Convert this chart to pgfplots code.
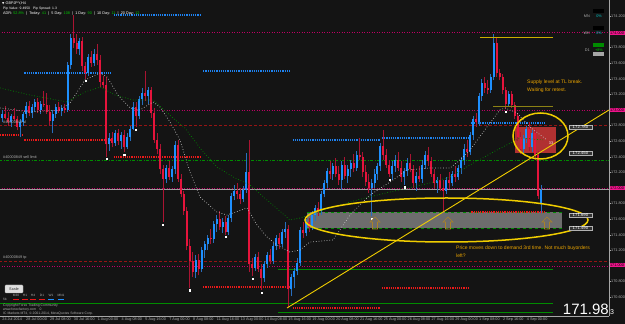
\documentclass[border=0pt]{standalone}
\usepackage{pgfplots}
\pgfplotsset{compat=1.18}
\usepackage{pgfplotstable}
\usepackage{fontspec}
\setmainfont{Liberation Sans}
\newfontfamily\dejavu{DejaVu Sans}
\definecolor{bg}{RGB}{20,20,20}
\definecolor{upc}{RGB}{30,144,255}
\definecolor{dnc}{RGB}{230,20,60}
\definecolor{upw}{RGB}{40,110,190}
\definecolor{dnw}{RGB}{170,20,50}
\definecolor{magl}{RGB}{190,0,100}
\definecolor{drl}{RGB}{150,20,20}
\definecolor{gml}{RGB}{0,140,0}
\definecolor{yel}{RGB}{240,205,0}
\definecolor{olv}{RGB}{140,130,20}
\definecolor{ann}{RGB}{235,165,0}
\definecolor{pinkl}{RGB}{240,20,140}
\definecolor{axg}{RGB}{175,175,175}
\definecolor{boxred}{RGB}{205,55,55}
\definecolor{boxgray}{RGB}{125,125,125}
\definecolor{sqblue}{RGB}{30,130,240}
\definecolor{sqred}{RGB}{235,25,25}
\definecolor{arr}{RGB}{170,130,40}
\definecolor{grn}{RGB}{0,200,0}
\definecolor{cya}{RGB}{0,200,200}
\definecolor{mag}{RGB}{195,195,195}

% bullish candles (close >= open)
\pgfplotstableread{
x o h l c
0 172.90 173.00 172.84 172.95
3 172.85 172.95 172.78 172.92
6 172.78 172.88 172.65 172.84
7 172.84 172.98 172.80 172.95
8 172.95 173.10 172.90 173.05
10 172.96 173.08 172.90 173.04
11 173.04 173.14 172.98 173.10
13 173.00 173.12 172.95 173.08
17 172.86 173.00 172.70 172.95
18 172.95 173.08 172.90 173.04
20 172.99 173.06 172.92 173.02
22 173.00 173.62 172.98 173.58
23 173.58 173.98 173.52 173.92
26 173.78 173.92 173.70 173.88
29 173.48 173.72 173.44 173.68
31 173.60 173.78 173.56 173.72
36 172.56 172.70 172.48 172.64
38 172.58 172.74 172.54 172.70
40 172.60 172.72 172.50 172.68
42 172.52 172.70 172.50 172.66
43 172.66 172.80 172.60 172.76
44 172.76 173.10 172.74 173.04
46 172.92 173.18 172.88 173.14
47 173.14 173.28 173.06 173.22
49 173.18 173.30 173.08 173.26
55 172.12 172.30 172.06 172.26
57 172.14 172.28 172.08 172.24
58 172.24 172.60 172.18 172.55
65 170.92 171.14 170.84 171.08
67 170.96 171.24 170.92 171.20
68 171.20 171.32 171.10 171.28
69 171.28 171.40 171.20 171.36
71 171.34 171.58 171.30 171.54
72 171.54 171.66 171.44 171.60
74 171.50 171.62 171.42 171.56
76 171.44 171.66 171.40 171.62
77 171.62 171.94 171.56 171.90
78 171.90 172.04 171.84 171.96
81 171.86 172.02 171.82 171.98
82 171.98 172.45 171.94 172.20
85 170.98 171.16 170.94 171.12
88 170.84 171.06 170.80 171.02
89 171.02 171.18 170.98 171.14
91 171.06 171.30 171.02 171.26
92 171.26 171.40 171.20 171.36
94 171.28 171.48 171.24 171.44
95 171.44 171.56 171.36 171.48
97 170.70 170.90 170.62 170.86
98 170.86 170.98 170.72 170.94
99 170.94 171.10 170.88 171.04
100 171.04 171.50 171.00 171.46
102 171.42 171.60 171.38 171.56
104 171.50 171.70 171.46 171.66
105 171.66 171.78 171.58 171.74
107 171.70 171.96 171.66 171.92
108 171.92 172.10 171.88 172.06
109 172.06 172.26 172.00 172.22
111 172.18 172.32 172.10 172.28
114 172.10 172.34 171.98 172.30
116 172.16 172.30 172.06 172.24
117 172.24 172.36 172.14 172.32
119 172.26 172.48 172.22 172.42
124 172.00 172.12 171.64 172.06
125 172.06 172.24 172.00 172.18
126 172.18 172.32 172.10 172.28
127 172.28 172.58 172.22 172.54
131 172.18 172.34 172.10 172.28
132 172.28 172.42 172.20 172.36
135 172.14 172.26 172.04 172.22
136 172.22 172.38 172.16 172.32
139 172.06 172.20 171.96 172.16
141 172.12 172.36 172.06 172.30
142 172.30 172.48 172.24 172.42
146 172.06 172.14 171.94 172.10
149 171.96 172.14 171.92 172.10
151 172.06 172.22 172.02 172.18
153 172.14 172.30 172.10 172.26
154 172.26 172.40 172.18 172.36
155 172.36 172.56 172.30 172.50
157 172.46 172.72 172.42 172.68
158 172.68 172.92 172.62 172.88
160 172.84 173.22 172.80 173.18
161 173.18 173.40 173.12 173.34
164 173.26 173.46 173.22 173.42
165 173.42 173.97 173.38 173.86
170 173.08 173.24 173.04 173.20
175 172.50 172.68 172.44 172.64
176 172.64 172.80 172.58 172.76
178 172.52 172.74 172.46 172.70
181 171.80 172.04 171.68 171.98
}\upbars

% bearish candles (close < open)
\pgfplotstableread{
x o h l c
1 172.95 173.05 172.88 172.90
2 172.90 172.98 172.80 172.85
4 172.92 173.02 172.86 172.88
5 172.88 172.92 172.74 172.78
9 173.05 173.12 172.92 172.96
12 173.10 173.15 172.96 173.00
14 173.08 173.24 173.04 173.06
15 173.06 173.22 172.95 172.98
16 172.98 173.06 172.80 172.86
19 173.04 173.10 172.96 172.99
21 173.02 173.08 172.96 173.00
24 173.92 174.22 173.80 173.86
25 173.86 173.97 173.72 173.78
27 173.88 173.94 173.50 173.56
28 173.56 173.62 173.40 173.48
30 173.68 173.76 173.55 173.60
32 173.72 173.84 173.58 173.64
33 173.64 173.70 173.30 173.36
34 173.36 173.44 173.28 173.32
35 173.32 173.42 172.40 172.56
37 172.64 172.72 172.52 172.58
39 172.70 172.76 172.55 172.60
41 172.68 172.74 172.46 172.52
45 173.04 173.10 172.78 172.92
48 173.22 173.50 173.12 173.18
50 173.26 173.30 172.90 172.96
51 172.96 173.02 172.58 172.62
52 172.62 172.70 172.44 172.50
53 172.50 172.56 172.18 172.24
54 172.24 172.30 171.56 172.12
56 172.26 172.34 172.10 172.14
59 172.55 172.62 172.08 172.12
60 172.12 172.18 171.88 171.92
61 171.92 171.96 171.66 171.70
62 171.70 171.76 171.20 171.26
63 171.26 171.34 170.72 171.06
64 171.06 171.18 170.86 170.92
66 171.08 171.16 170.88 170.96
70 171.36 171.48 171.28 171.34
73 171.60 171.70 171.46 171.50
75 171.56 171.64 171.40 171.44
79 171.96 172.06 171.86 171.92
80 171.92 172.00 171.80 171.86
83 172.20 172.62 170.92 171.02
84 171.02 171.10 170.87 170.98
86 171.12 171.18 170.92 170.96
87 170.96 171.02 170.69 170.84
90 171.14 171.22 171.02 171.06
93 171.36 171.42 171.22 171.28
96 171.48 171.52 170.46 170.70
101 171.46 171.56 171.36 171.42
103 171.56 171.62 171.44 171.50
106 171.74 171.82 171.64 171.70
110 172.22 172.34 172.12 172.18
112 172.28 172.38 172.14 172.18
113 172.18 172.28 172.04 172.10
115 172.30 172.40 172.12 172.16
118 172.32 172.44 172.20 172.26
120 172.42 172.64 172.36 172.40
121 172.40 172.46 172.14 172.20
122 172.20 172.30 172.02 172.08
123 172.08 172.18 171.94 172.00
128 172.54 172.74 172.36 172.42
129 172.42 172.50 172.26 172.30
130 172.30 172.36 172.14 172.18
133 172.36 172.46 172.22 172.26
134 172.26 172.34 172.08 172.14
137 172.32 172.44 172.20 172.24
138 172.24 172.30 172.00 172.06
140 172.16 172.28 172.08 172.12
143 172.42 172.52 172.28 172.34
144 172.34 172.40 172.14 172.18
145 172.18 172.24 172.00 172.06
147 172.10 172.18 171.96 172.00
148 172.00 172.10 171.69 171.96
150 172.10 172.20 172.00 172.06
152 172.18 172.28 172.08 172.14
156 172.50 172.62 172.40 172.46
159 172.88 172.96 172.78 172.84
162 173.34 173.42 173.22 173.28
163 173.28 173.38 173.20 173.26
166 173.86 173.94 173.42 173.48
167 173.48 173.52 173.38 173.42
168 173.42 173.46 173.20 173.26
169 173.26 173.30 173.01 173.08
171 173.20 173.24 173.02 173.06
172 173.06 173.10 172.88 172.92
173 172.92 172.96 172.60 172.66
174 172.66 172.72 172.44 172.50
177 172.76 172.84 172.48 172.52
179 172.70 172.76 172.36 172.42
180 172.42 172.48 171.86 171.90
}\dnbars

\begin{document}
\begin{tikzpicture}
\useasboundingbox (0,0) rectangle (625pt,324pt);
\fill[bg] (0,0) rectangle (625pt,324pt);
\begin{axis}[
  at={(0pt,8pt)}, anchor=south west,
  scale only axis, width=609pt, height=316pt,
  xmin=-0.671, xmax=203.69, ymin=170.359, ymax=174.410,
  axis x line*=bottom, axis y line*=right,
  axis line style={draw=gray!70, line width=0.4pt},
  tick align=outside, major tick length=1.5pt,
  tick style={draw=gray!70, line width=0.3pt},
  /pgf/number format/assume math mode=true,
  xtick={0,8,...,176},
  xticklabels={24 Jul 2014, 28 Jul 00:00, 29 Jul 08:00, 30 Jul 16:00, 1 Aug 00:00, 4 Aug 08:00, 5 Aug 16:00, 7 Aug 00:00, 8 Aug 08:00, 11 Aug 16:00, 13 Aug 00:00, 14 Aug 08:00, 15 Aug 16:00, 19 Aug 00:00, 20 Aug 08:00, 21 Aug 16:00, 25 Aug 00:00, 26 Aug 08:00, 27 Aug 16:00, 29 Aug 00:00, 1 Sep 08:00, 2 Sep 16:00, 4 Sep 00:00},
  xticklabel style={anchor=north west, inner sep=0.5pt, xshift=-0.3pt, font=\fontsize{3.8}{4}\selectfont, text=axg},
  ytick={170.6,170.8,171.2,171.4,171.6,171.8,172.2,172.4,172.6,172.8,173.2,173.4,173.6,173.8,174.2},
  yticklabel style={/pgf/number format/fixed, /pgf/number format/fixed zerofill, /pgf/number format/precision=3, font=\fontsize{3.8}{4}\selectfont, text=axg, inner sep=0.5pt},
  scaled y ticks=false,
]
% boxes
\addplot[draw=none, fill=boxgray, fill opacity=0.85, forget plot] coordinates {(102.35,171.69) (187.9,171.69) (187.9,171.49) (102.35,171.49)} -- cycle;
\addplot[gml, dashed, line width=0.5pt] coordinates {(102.35,171.69) (187.9,171.69)};
\addplot[gml, dashed, line width=0.5pt] coordinates {(102.35,171.49) (187.9,171.49)};
\addplot[draw=none, fill=boxred, fill opacity=0.85, forget plot] coordinates {(172.15,172.78) (185.9,172.78) (185.9,172.45) (172.15,172.45)} -- cycle;
% full-width levels
\addplot[magl, dotted, line width=0.5pt] coordinates {(-1,174.0) (204,174.0)};
\addplot[magl, dotted, line width=0.5pt] coordinates {(-1,173.0) (204,173.0)};
\addplot[magl, dotted, line width=0.5pt] coordinates {(-1,172.0) (204,172.0)};
\addplot[magl, dotted, line width=0.5pt] coordinates {(-1,171.0) (204,171.0)};
\addplot[drl, dash pattern=on 3pt off 2pt, line width=0.5pt] coordinates {(-1,172.808) (204,172.808)};
\addplot[drl, dash pattern=on 3pt off 2pt, line width=0.5pt] coordinates {(-1,171.064) (204,171.064)};
\addplot[gml, dash pattern=on 3pt off 1.5pt on 1pt off 1.5pt, line width=0.5pt] coordinates {(-1,172.359) (204,172.359)};
\addplot[gray!75, line width=0.5pt] coordinates {(-1,171.983) (204,171.983)};
\addplot[gml, line width=0.6pt] coordinates {(-1,170.526) (184.9,170.526)};
\addplot[gml, line width=0.6pt] coordinates {(92.6,170.962) (184.9,170.962)};
\addplot[gml, line width=0.6pt] coordinates {(92.6,170.41) (184.9,170.41)};
% weekly high (blue) and low (red) square-dotted segments
\pgfplotsset{sqdot/.style={line width=1.2pt, dash pattern=on 1.2pt off 1.0pt}}
\addplot[sqblue, sqdot] coordinates {(7.5,173.474) (37,173.474)};
\addplot[sqblue, sqdot] coordinates {(37.5,174.218) (67,174.218)};
\addplot[sqblue, sqdot] coordinates {(67.5,173.5) (97,173.5)};
\addplot[sqblue, sqdot] coordinates {(97.5,172.615) (127,172.615)};
\addplot[sqblue, sqdot] coordinates {(127.5,172.641) (157,172.641)};
\addplot[sqblue, sqdot] coordinates {(157.5,172.833) (182.5,172.833)};
\addplot[sqred, sqdot] coordinates {(-0.6,172.679) (7,172.679)};
\addplot[sqred, sqdot] coordinates {(7.5,172.615) (37,172.615)};
\addplot[sqred, sqdot] coordinates {(37.5,172.397) (67,172.397)};
\addplot[sqred, sqdot] coordinates {(67.5,170.731) (97,170.731)};
\addplot[sqred, sqdot] coordinates {(97.5,170.462) (127,170.462)};
\addplot[sqred, sqdot] coordinates {(127.5,170.718) (157,170.718)};
\addplot[sqred, sqdot] coordinates {(157.5,171.692) (182,171.692)};
% candles: wicks
\addplot[draw=none, mark=none, forget plot, error bars/.cd, y dir=plus, y explicit, error mark=none,
  error bar style={line width=0.6pt, draw=upw, solid}]
  table[x=x, y=l, y error plus expr={\thisrow{h}-\thisrow{l}}] {\upbars};
\addplot[draw=none, mark=none, forget plot, error bars/.cd, y dir=plus, y explicit, error mark=none,
  error bar style={line width=0.6pt, draw=dnw, solid}]
  table[x=x, y=l, y error plus expr={\thisrow{h}-\thisrow{l}}] {\dnbars};
% candles: bodies
\addplot[draw=none, mark=none, forget plot, error bars/.cd, y dir=plus, y explicit, error mark=none,
  error bar style={line width=2pt, draw=upc, solid}]
  table[x=x, y=o, y error plus expr={\thisrow{c}-\thisrow{o}}] {\upbars};
\addplot[draw=none, mark=none, forget plot, error bars/.cd, y dir=plus, y explicit, error mark=none,
  error bar style={line width=2pt, draw=dnc, solid}]
  table[x=x, y=c, y error plus expr={\thisrow{o}-\thisrow{c}}] {\dnbars};
% moving averages
\addplot[mag, dotted, line width=0.7pt] coordinates {(-0.67,173.026) (9.40,172.974) (19.46,173.000) (22.82,173.090) (27.85,173.385) (32.89,173.474) (35.23,173.423) (38.93,173.192) (42.95,173.026) (46.31,173.000) (50.67,173.103) (53.02,173.038) (56.38,172.846) (59.73,172.615) (63.09,172.205) (66.44,171.885) (72.15,171.692) (75.50,171.654) (77.52,171.679) (82.21,171.744) (85.57,171.526) (88.93,171.372) (92.28,171.269) (96.64,171.179) (100.00,171.205) (103.36,171.308) (111.07,171.333) (116.78,171.654) (123.49,171.910) (130.20,172.077) (135.91,172.231) (143.62,172.256) (150.34,172.256) (153.69,172.359) (157.05,172.487) (162.75,172.782) (167.11,173.000) (168.79,173.026) (172.82,172.962) (177.18,172.782) (182.89,172.615)};
\addplot[gml, dotted, line width=0.7pt] coordinates {(-0.67,173.282) (9.40,173.192) (21.81,173.103) (27.85,173.231) (32.89,173.295) (37.92,173.192) (43.96,173.128) (50.67,173.128) (57.38,172.897) (61.41,172.769) (66.44,172.513) (72.15,172.269) (78.19,172.128) (83.22,172.038) (88.93,171.846) (96.64,171.590) (100.00,171.615) (110.07,171.744) (119.13,171.846) (130.20,171.949) (137.92,172.013) (143.62,172.064) (150.34,172.141) (157.05,172.295) (166.11,172.487) (173.83,172.641) (182.21,172.615)};
% swing-low dots
\addplot[only marks, mark=square*, mark size=0.55pt, white] coordinates {(28,173.37) (35,172.37) (41,172.43) (45,172.75) (54,171.53) (63,170.69) (75,171.37) (84,170.84) (87,170.66) (124,171.61) (130,172.11) (135,172.01) (169,172.98)};
% trendline and manual levels
\addplot[yel, line width=0.9pt] coordinates {(95.64,170.462) (203.69,173.0)};
\addplot[yel!85!black, line width=0.8pt] coordinates {(160.4,173.936) (184.9,173.936)};
\addplot[olv, line width=0.8pt] coordinates {(164.8,173.051) (184.9,173.051)};
\end{axis}

\begin{scope}[x=1pt, y=-1pt, shift={(0pt,324pt)}]
\tikzset{tiny/.style={font=\fontsize{3.8}{4}\selectfont, inner sep=0pt}}
% ellipses
\draw[yel, line width=1.5pt] (446.5,220) ellipse [x radius=141.5pt, y radius=22pt];
\draw[yel, line width=1.5pt] (540.5,136) ellipse [x radius=27.5pt, y radius=23pt];
% arrows
\foreach \ax in {375,448,547}{
  \draw[arr, line width=0.6pt] (\ax,217) -- ++(5,5) -- ++(-2.5,0) -- ++(0,7) -- ++(-5,0) -- ++(0,-7) -- ++(-2.5,0) -- cycle;
}
\node[tiny, text=white] at (551,143) {33};
% boxed price labels
\foreach \yy/\tt in {127/172.780, 153/172.450, 215/171.690, 228/171.490}{
  \node[font=\fontsize{4.3}{5}\selectfont, text=white, fill=black!80, draw=gray!60, line width=0.5pt, inner sep=0.6pt, minimum width=23pt] at (580.5,\yy) {\tt};
}
% annotation texts
\node[anchor=west, text=ann, font=\fontsize{5}{6}\selectfont, inner sep=0] at (527,82) {Supply level at TL break.};
\node[anchor=west, text=ann, font=\fontsize{5}{6}\selectfont, inner sep=0] at (527,90) {Waiting for retest.};
\node[anchor=west, text=ann, font=\fontsize{5}{6}\selectfont, inner sep=0] at (456,248) {Price moves down to demand 3rd time. Not much buyorders};
\node[anchor=west, text=ann, font=\fontsize{5}{6}\selectfont, inner sep=0] at (456,256) {left?};
% order labels
\node[tiny, anchor=west, text=axg] at (3,122) {\#40000849 sl};
\node[tiny, anchor=west, text=axg] at (3,157) {\#40000849 sell limit};
\node[tiny, anchor=west, text=axg] at (3,258) {\#40000849 tp};
% pink axis labels
\foreach \yy/\tt in {33/174.000, 110/173.000, 188/172.000, 265/171.000}{
  \node[font=\fontsize{3.8}{4}\selectfont, text=black, fill=pinkl, inner sep=0.5pt, minimum width=15pt, minimum height=4.5pt] at (617,\yy) {\tt};
}
% top-left info
\node[tiny, anchor=west, text=white] at (2,3.5) {{\dejavu\fontsize{3}{4}\selectfont ▼} GBPJPY,H4};
\node[font=\fontsize{3.4}{4}\selectfont, inner sep=0, anchor=west, text=white] at (3,8.7) {Pip Value: 9.4950};
\node[font=\fontsize{3.4}{4}\selectfont, inner sep=0, anchor=west, text=white] at (33,8.7) {Pip Spread: 1.3};
\node[tiny, anchor=west, text=white] at (3,14) {ADR: \textcolor{grn}{52.8\%}\ \ |\ \ Today: \textcolor{grn}{41}\ \ |\ \ 5 Day: \textcolor{grn}{108}\ \ |\ \ 1 Day: \textcolor{grn}{90}\ \ |\ \ 10 Day: \textcolor{grn}{11}\ \ |\ \ 20 Day: \textcolor{grn}{12}};
% top-right indicator
\node[tiny, anchor=east, text=axg] at (590,16) {MN};
\node[tiny, anchor=east, text=axg] at (590,33) {WK};
\node[tiny, anchor=east, text=axg] at (590,50) {D1};
\fill[black] (593,9) rectangle (604,13);
\node[tiny, text=cya] at (599,16) {0\%};
\fill[black] (593,26) rectangle (604,30);
\node[tiny, text=cya] at (599,33) {0\%};
\fill[green!55!black] (593,43) rectangle (604,47);
\node[tiny, text=grn] at (599,50) {+8\%};
\fill[gray!70] (593,52.5) rectangle (604,56);
% bottom-left
\draw[fill=gray!25, draw=gray!70, rounded corners=0.8pt] (5,285) rectangle (23,293);
\node[tiny, text=gray!30!black] at (14,289) {Scale};
\foreach \xx/\tt in {16/M30,25/H1,33/H4,42/D1,51/W1,61/MN1}{\node[font=\fontsize{3.2}{4}\selectfont, inner sep=0, text=axg] at (\xx,295.5) {\tt};}
\foreach \xx/\cc in {16/sqred,25/sqred,33/sqred,42/sqred,51/upc,61/upc}{\draw[\cc, line width=0.5pt] (\xx-3,299.5) -- (\xx+3,299.5);}
\node[font=\fontsize{3.2}{4}\selectfont, inner sep=0, anchor=west, text=axg] at (3,299.5) {fib};
\node[font=\fontsize{3.4}{4}\selectfont, inner sep=0, anchor=west, text=axg] at (3,306) {Copyright Forex Trading Community};
\node[font=\fontsize{3.4}{4}\selectfont, inner sep=0, anchor=west, text=axg] at (3,310) {www.forexfactory.com\quad 0};
\node[font=\fontsize{3.4}{4}\selectfont, inner sep=0, anchor=west, text=axg] at (3,313.5) {IC Markets MT4, \textcopyright{} 2001-2014, MetaQuotes Software Corp.};
% big price
\node[anchor=base east, inner sep=0, text=white, font=\fontsize{15}{16}\selectfont] at (609,315) {171.98};
\node[anchor=base west, inner sep=0, text=white, font=\fontsize{7}{8}\selectfont] at (610,315) {3};
\end{scope}
\end{tikzpicture}
\end{document}
